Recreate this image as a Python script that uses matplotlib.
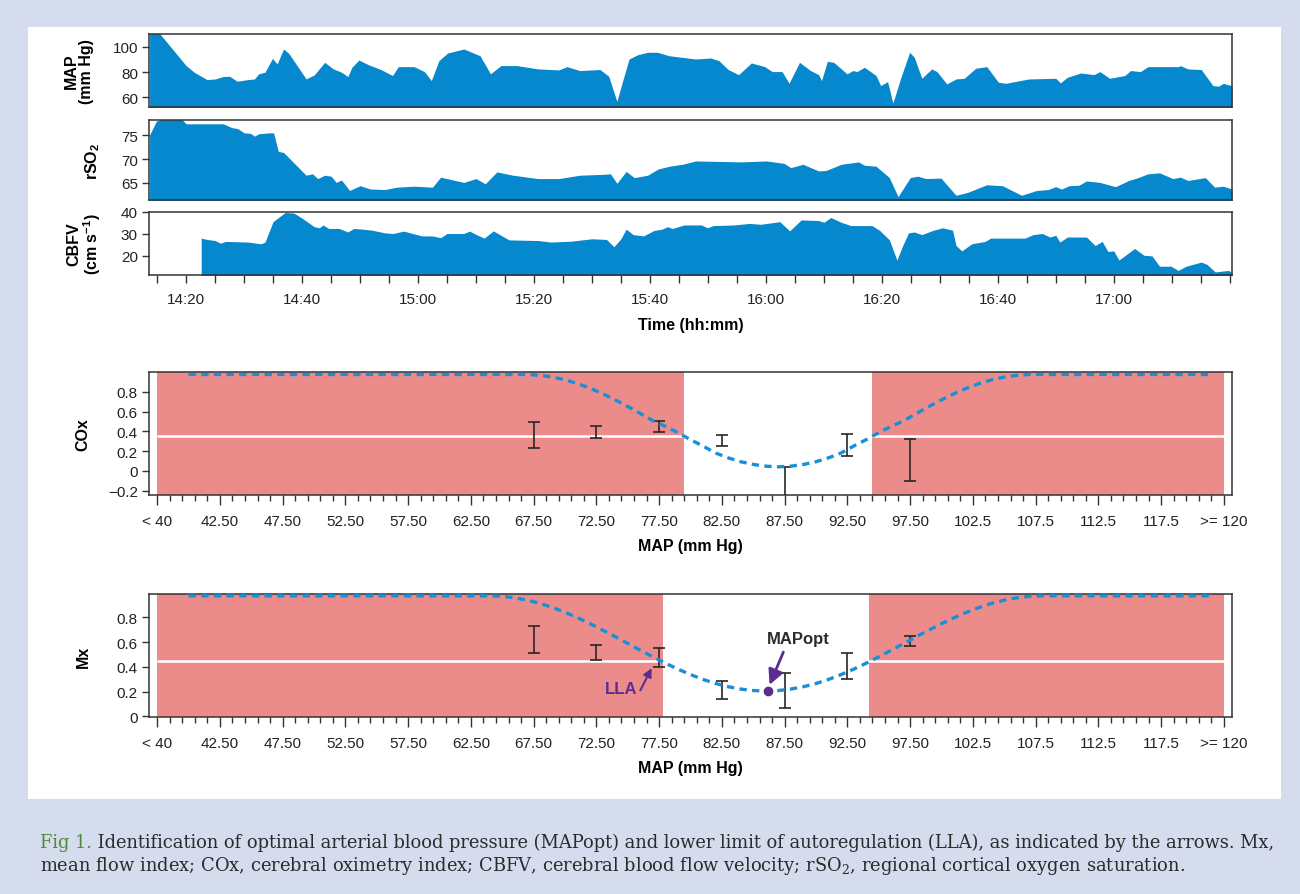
import numpy as np
import matplotlib.pyplot as plt
from matplotlib.patches import Rectangle

plt.rcParams['font.family'] = ['Liberation Sans', 'DejaVu Sans']
plt.rcParams['mathtext.default'] = 'regular'

W, H = 1300, 895

# ---- monitoring traces, (minutes after 14:00, value) ----
map_pts = np.array([
    (13.7, 112), (15.4, 110.5), (20.0, 85.1), (21.4, 79.9), (23.6, 74.1), (25.0, 74.6),
    (26.4, 76.5), (27.5, 76.7), (28.8, 72.8), (30.7, 74.1), (31.8, 74.6), (32.5, 78.6),
    (33.6, 79.9), (34.9, 90.8), (35.7, 86.4), (36.8, 98.2), (37.7, 94.8), (40.7, 74.6),
    (42.1, 77.8), (43.9, 87.7), (45.4, 82.5), (46.8, 79.9), (47.9, 76.5), (48.6, 83.8),
    (49.8, 89.5), (51.4, 85.9), (53.6, 82.0), (55.6, 77.3), (56.6, 84.3), (59.3, 84.3),
    (61.1, 80.4), (62.3, 73.3), (63.6, 89.0), (65.1, 95.0), (67.9, 98.2), (70.7, 92.9),
    (72.5, 78.6), (74.3, 85.1), (77.1, 85.1), (80.7, 82.5), (84.3, 81.7), (85.7, 84.3),
    (87.9, 81.2), (91.4, 82.0), (92.9, 76.7), (94.3, 56.9), (95.4, 74.6), (96.4, 90.3),
    (97.9, 93.7), (99.6, 95.6), (101.3, 95.6), (103.3, 92.9), (107.9, 90.3), (110.5, 91.1),
    (111.9, 89.0), (113.5, 82.0), (115.3, 78.0), (117.5, 87.2), (119.8, 84.3), (121.1, 80.4),
    (122.8, 80.4), (124.0, 71.2), (125.8, 87.7), (127.7, 81.2), (129.1, 78.0), (129.6, 73.3),
    (130.6, 88.5), (131.7, 87.7), (134.0, 78.6), (135.0, 81.2), (135.7, 80.4), (137.0, 83.8),
    (139.0, 77.3), (139.8, 69.4), (141.0, 72.5), (141.9, 55.6), (143.3, 75.9), (144.8, 95.6),
    (145.6, 91.6), (146.9, 75.1), (148.6, 82.5), (149.5, 80.4), (151.2, 70.7), (152.8, 74.6),
    (154.2, 75.1), (156.2, 83.0), (158.1, 84.3), (160.1, 72.0), (161.4, 71.2), (165.4, 74.6),
    (170.0, 75.1), (170.8, 71.5), (172.0, 75.9), (174.3, 79.3), (176.6, 78.0), (177.6, 80.4),
    (179.3, 75.1), (181.9, 77.3), (182.9, 81.2), (184.6, 80.4), (185.9, 84.3), (191.2, 84.3),
    (191.5, 85.1), (192.8, 82.5), (195.1, 82.0), (197.1, 69.4), (198.1, 68.9), (198.9, 71.2),
    (199.8, 69.9), (200.4, 69.4)])

rso2_pts = np.array([
    (13.7, 75.1), (14.9, 78.0), (15.7, 78.3), (19.3, 78.3), (20.0, 77.4), (26.4, 77.4),
    (27.9, 76.6), (28.9, 76.4), (30.0, 75.5), (31.1, 75.4), (31.8, 74.8), (32.5, 75.3),
    (34.3, 75.5), (35.1, 75.5), (35.9, 71.6), (36.8, 71.4), (40.7, 66.6), (41.8, 66.9),
    (42.7, 65.9), (43.9, 66.6), (45.0, 66.4), (45.9, 65.1), (46.8, 65.6), (48.2, 63.4),
    (50.0, 64.4), (51.8, 63.7), (54.3, 63.6), (56.4, 64.1), (59.3, 64.3), (62.5, 64.1),
    (63.9, 66.2), (66.4, 65.5), (67.9, 65.1), (70.0, 65.9), (71.6, 64.8), (73.6, 67.3),
    (76.4, 66.6), (80.7, 65.9), (84.3, 65.9), (87.9, 66.6), (92.1, 66.8), (93.2, 66.9),
    (94.3, 64.9), (95.9, 67.4), (97.3, 66.1), (99.6, 66.6), (101.4, 67.9), (103.4, 68.5),
    (105.6, 68.9), (107.9, 69.6), (115.8, 69.4), (120.1, 69.6), (123.1, 69.1), (124.3, 68.2),
    (126.4, 68.9), (129.1, 67.5), (130.4, 67.6), (133.0, 68.9), (136.0, 69.4), (137.0, 68.7),
    (139.0, 68.5), (141.3, 66.1), (142.8, 62.1), (144.9, 66.1), (146.2, 66.4), (147.6, 65.9),
    (150.2, 66.0), (152.8, 62.4), (154.8, 63.0), (158.1, 64.6), (160.8, 64.4), (164.1, 62.4),
    (166.7, 63.4), (168.7, 63.6), (170.0, 64.2), (171.0, 63.7), (172.3, 64.4), (174.0, 64.5),
    (175.3, 65.4), (177.6, 65.1), (180.3, 64.2), (182.6, 65.5), (184.2, 66.1), (185.9, 66.9),
    (187.9, 67.1), (190.2, 65.9), (191.5, 66.2), (192.8, 65.5), (195.8, 66.1), (197.4, 64.1),
    (198.9, 64.3), (200.4, 63.7)])

cbfv_pts = np.array([
    (22.6, 0), (22.6, 28.1), (23.6, 27.5), (25.0, 27.0), (25.9, 25.8), (26.8, 26.6),
    (30.7, 26.3), (32.9, 25.5), (33.6, 26.3), (35.0, 35.6), (37.1, 39.8), (38.6, 39.5),
    (40.0, 37.2), (42.1, 33.3), (43.0, 32.8), (43.6, 34.1), (44.6, 32.5), (46.4, 32.5),
    (47.9, 30.9), (48.9, 32.5), (50.4, 32.2), (52.1, 31.7), (54.3, 30.5), (55.7, 30.2),
    (57.5, 31.3), (60.7, 29.1), (62.5, 29.1), (63.9, 28.3), (65.0, 30.2), (67.9, 30.2),
    (68.9, 31.3), (70.0, 29.8), (71.4, 28.1), (73.0, 31.4), (74.3, 29.4), (75.7, 27.3),
    (80.7, 27.0), (82.9, 26.3), (86.4, 26.7), (90.0, 27.8), (92.5, 27.5), (93.8, 24.2),
    (95.0, 27.8), (95.9, 32.2), (97.1, 29.7), (98.9, 29.1), (100.7, 31.6), (102.1, 32.2),
    (103.0, 33.3), (103.9, 32.5), (105.9, 34.1), (108.9, 34.1), (109.9, 32.8), (110.9, 33.8),
    (114.5, 34.1), (117.2, 34.8), (119.1, 34.4), (122.4, 35.6), (124.1, 31.4), (126.1, 36.4),
    (129.1, 36.1), (130.0, 35.3), (131.2, 37.5), (133.0, 35.3), (134.7, 33.8), (138.3, 33.8),
    (139.6, 31.7), (141.3, 27.3), (142.6, 18.1), (143.6, 24.7), (144.6, 30.5), (145.6, 30.9),
    (146.9, 29.7), (148.9, 31.7), (150.5, 32.8), (152.2, 31.7), (152.8, 24.7), (153.8, 22.3),
    (155.5, 25.5), (157.8, 26.6), (158.8, 28.1), (164.7, 28.1), (166.1, 29.7), (167.7, 30.2),
    (169.0, 28.6), (170.0, 29.4), (170.7, 26.3), (172.0, 28.6), (175.3, 28.6), (176.8, 24.7),
    (178.0, 26.6), (179.0, 22.0), (180.0, 22.3), (180.9, 18.1), (183.6, 23.4), (185.2, 20.3),
    (186.6, 20.0), (187.9, 15.3), (189.9, 15.3), (191.1, 13.4), (192.5, 15.3), (195.1, 17.2),
    (196.1, 16.1), (197.5, 12.7), (199.8, 13.4), (200.4, 12.2)])

time_ticks = [20, 40, 60, 80, 100, 120, 140, 160, 180]
time_labels = ['14:20', '14:40', '15:00', '15:20', '15:40', '16:00', '16:20', '16:40', '17:00']

# ---- MAP bins ----
bin_ticks = [37.5, 42.5, 47.5, 52.5, 57.5, 62.5, 67.5, 72.5, 77.5, 82.5, 87.5,
             92.5, 97.5, 102.5, 107.5, 112.5, 117.5, 122.5]
bin_labels = ['< 40', '42.50', '47.50', '52.50', '57.50', '62.50', '67.50', '72.50', '77.50',
              '82.50', '87.50', '92.50', '97.50', '102.5', '107.5', '112.5', '117.5', '>= 120']

bins = [67.5, 72.5, 77.5, 82.5, 87.5, 92.5, 97.5]
cox_lo = [0.23, 0.33, 0.39, 0.25, -0.30, 0.15, -0.105]
cox_hi = [0.49, 0.45, 0.50, 0.36, 0.04, 0.37, 0.325]
mx_lo = [0.515, 0.46, 0.40, 0.14, 0.07, 0.30, 0.57]
mx_hi = [0.735, 0.575, 0.555, 0.285, 0.35, 0.51, 0.65]

cox_fit_x = [40] + list(range(67, 108)) + [121.3]
cox_fit_y = [0.975,
             0.975, 0.966, 0.949, 0.921, 0.883, 0.836, 0.780, 0.718, 0.651, 0.580,
             0.507, 0.450, 0.385, 0.315, 0.250, 0.180, 0.131, 0.092, 0.064, 0.047,
             0.040,
             0.047, 0.064, 0.092, 0.131, 0.180, 0.250, 0.315, 0.385, 0.450, 0.507,
             0.580, 0.651, 0.718, 0.780, 0.836, 0.883, 0.921, 0.949, 0.966, 0.975,
             0.975]
mx_fit_x = [40] + list(range(64, 109)) + [121.3]
mx_fit_y = [0.975,
            0.975, 0.971, 0.959, 0.940, 0.914, 0.881, 0.842, 0.798, 0.750, 0.698, 0.645,
            0.590, 0.535, 0.482, 0.430, 0.382, 0.338, 0.299, 0.266, 0.240, 0.221, 0.209,
            0.205,
            0.209, 0.221, 0.240, 0.266, 0.299, 0.338, 0.382, 0.430, 0.482, 0.535, 0.590,
            0.645, 0.698, 0.750, 0.798, 0.842, 0.881, 0.914, 0.940, 0.959, 0.971, 0.975,
            0.975]

cox_thr, cox_lla, cox_ula = 0.35, 79.5, 94.5
mx_thr, mx_lla, mx_ula = 0.445, 77.8, 94.2
mapopt = (86.15, 0.205)

blue = '#0588cd'
red = '#ec8c8a'
curve = '#1b8fd6'
purple = '#5c2d91'
frame = '#333333'


def px_axes(left, top, right, bottom):
    return fig.add_axes([left / W, 1 - bottom / H, (right - left) / W, (bottom - top) / H])


def style(ax):
    for s in ax.spines.values():
        s.set_color(frame)
        s.set_linewidth(1.1)
    ax.tick_params(colors=frame, labelcolor='#222222', labelsize=11, width=1.0)


fig = plt.figure(figsize=(W / 100, H / 100), dpi=100, facecolor='#d5dcee')
fig.add_artist(Rectangle((28 / W, 1 - 800 / H), 1253 / W, 772 / H, transform=fig.transFigure,
                         facecolor='white', edgecolor='none', zorder=-5))

# ---- top traces ----
ax_map = px_axes(149, 35, 1232, 108)
ax_rso = px_axes(149, 121, 1232, 201)
ax_cbf = px_axes(149, 213, 1232, 276)
traces = [(ax_map, map_pts, (52.5, 110), [60, 80, 100], 'MAP\n(mm Hg)', 79),
          (ax_rso, rso2_pts, (61.4, 78.2), [65, 70, 75], 'rSO$_2$', 93),
          (ax_cbf, cbfv_pts, (11.3, 40), [20, 30, 40], 'CBFV\n(cm s$^{-1}$)', 85)]
for ax, pts, ylim, yt, lab, lx in traces:
    ax.fill_between(pts[:, 0], 0, pts[:, 1], color=blue, lw=0)
    ax.set_xlim(13.6, 200.4)
    ax.set_ylim(*ylim)
    ax.set_yticks(yt)
    ax.set_ylabel(lab, fontsize=11.5, fontweight='bold', linespacing=1.0, va='center')
    ax.yaxis.set_label_coords((lx - 149) / 1083, 0.5)
    style(ax)
    ax.tick_params(axis='y', length=5, pad=3)
    if ax is not ax_cbf:
        ax.set_xticks([])

ax_cbf.set_xticks(np.arange(15, 201, 5))
ax_cbf.set_xticklabels([time_labels[time_ticks.index(t)] if t in time_ticks else ''
                        for t in range(15, 201, 5)])
ax_cbf.tick_params(axis='x', length=6, pad=6)
ax_cbf.set_xlabel('Time (hh:mm)', fontsize=11.5, fontweight='bold', labelpad=8)

# ---- COx and Mx by MAP bin ----
ax_cox = px_axes(149, 373, 1232, 496)
ax_mx = px_axes(149, 595, 1232, 718)
panels = [(ax_cox, cox_lo, cox_hi, cox_fit_x, cox_fit_y, cox_thr, cox_lla, cox_ula,
           (-0.245, 1.0), [-0.2, 0, 0.2, 0.4, 0.6, 0.8], ['\u22120.2', '0', '0.2', '0.4', '0.6', '0.8'], 'COx'),
          (ax_mx, mx_lo, mx_hi, mx_fit_x, mx_fit_y, mx_thr, mx_lla, mx_ula,
           (-0.005, 0.99), [0, 0.2, 0.4, 0.6, 0.8], ['0', '0.2', '0.4', '0.6', '0.8'], 'Mx')]
for ax, lo, hi, fx, fy, thr, lla, ula, ylim, yt, ytl, lab in panels:
    ax.axvspan(bin_ticks[0], lla, color=red, lw=0, zorder=0)
    ax.axvspan(ula, bin_ticks[-1], color=red, lw=0, zorder=0)
    ax.hlines(thr, bin_ticks[0], bin_ticks[-1], color='white', lw=1.8, zorder=1)
    lo, hi = np.array(lo), np.array(hi)
    ax.errorbar(bins, (lo + hi) / 2, yerr=(hi - lo) / 2, fmt='none', ecolor='#262626',
                elinewidth=1.2, capsize=4.5, capthick=1.2, zorder=3)
    ax.plot(fx, fy, color=curve, lw=2.4, ls=(0, (2.2, 1.6)), zorder=4)
    ax.set_xlim(36.85, 123.15)
    ax.set_ylim(*ylim)
    ax.set_yticks(yt)
    ax.set_yticklabels(ytl)
    ax.set_xticks(bin_ticks)
    ax.set_xticklabels(bin_labels)
    ax.set_xticks(np.arange(37.5, 123, 1.0), minor=True)
    style(ax)
    ax.tick_params(axis='y', length=5, pad=3)
    ax.tick_params(axis='x', which='major', length=7, pad=7)
    ax.tick_params(axis='x', which='minor', length=4, width=1.0, colors=frame)
    ax.set_xlabel('MAP (mm Hg)', fontsize=11.5, fontweight='bold', labelpad=7)
    ax.set_ylabel(lab, fontsize=11.5, fontweight='bold', va='center')
    ax.yaxis.set_label_coords((83 - 149) / 1083, 0.5)

ax_mx.plot(*mapopt, 'o', color=purple, ms=6, zorder=5)
ax_mx.text(74.5, 0.222, 'LLA', color=purple, fontsize=12, fontweight='bold',
           ha='center', va='center')
ax_mx.annotate('', xy=(76.9, 0.39), xytext=(76.0, 0.21),
               arrowprops=dict(arrowstyle='-|>,head_length=0.5,head_width=0.25', color=purple,
                               lw=1.5, shrinkA=0, shrinkB=0))
ax_mx.text(88.6, 0.63, 'MAPopt', color='#2b2b2b', fontsize=12, fontweight='bold',
           ha='center', va='center')
ax_mx.annotate('', xy=(86.3, 0.255), xytext=(87.4, 0.52),
               arrowprops=dict(arrowstyle='-|>,head_length=0.9,head_width=0.45', color=purple,
                               lw=2.0, shrinkA=0, shrinkB=0))

# ---- caption ----
cap_font = dict(family=['DejaVu Serif'], fontsize=12.9, va='baseline')
green, dark = '#4f8a3c', '#2b2b2b'
t1 = fig.text(40 / W, 1 - 848 / H, 'Fig 1.', color=green, **cap_font)
fig.canvas.draw()
bb = t1.get_window_extent()
fig.text(bb.x1 / W, 1 - 848 / H,
         ' Identification of optimal arterial blood pressure (MAPopt) and lower limit of '
         'autoregulation (LLA), as indicated by the arrows. Mx,', color=dark, **cap_font)
fig.text(40 / W, 1 - 871 / H,
         'mean flow index; COx, cerebral oximetry index; CBFV, cerebral blood flow velocity; '
         'rSO$_2$, regional cortical oxygen saturation.', color=dark, **cap_font)

fig.savefig('out.png', dpi=100, facecolor=fig.get_facecolor())
